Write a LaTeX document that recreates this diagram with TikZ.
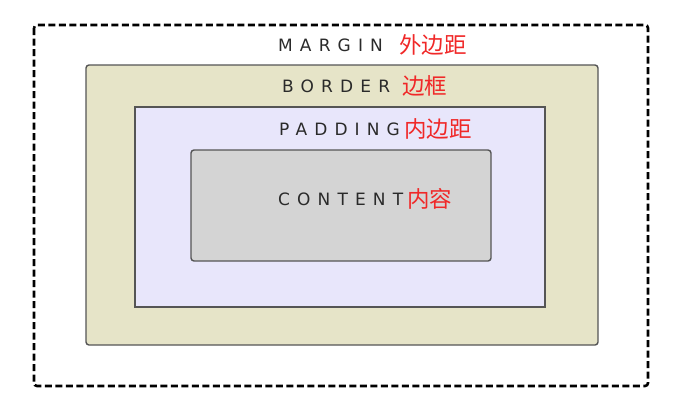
\documentclass[tikz,border=0pt]{standalone}
\usepackage{fontspec}
\setmainfont{DejaVu Sans}
\newfontfamily\latfont[LetterSpace=42]{DejaVu Sans}
\newfontfamily\cjkfont{Noto Sans CJK SC}
\definecolor{bordfill}{HTML}{E6E4C8}
\definecolor{padfill}{HTML}{E8E6FB}
\definecolor{contfill}{HTML}{D4D4D4}
\definecolor{edge}{HTML}{555555}
\definecolor{txt}{HTML}{2A2A2A}
\definecolor{cjkred}{HTML}{F02828}
\begin{document}
\begin{tikzpicture}[x=1pt,y=-1pt,
  boxstyle/.style={draw=edge,line width=1.4pt,rounded corners=3pt},
  lat/.style={inner sep=0pt,anchor=base west,text=txt,font=\latfont\fontsize{17}{17}\selectfont},
  cjk/.style={inner sep=0pt,anchor=base west,text=cjkred,font=\cjkfont\fontsize{22.5}{22.5}\selectfont}]
\useasboundingbox (0,0) rectangle (693,400);
\draw[line width=2.6pt,dash pattern=on 7pt off 3.5pt,rounded corners=3pt] (34,25) rectangle (648,386);
\draw[boxstyle,fill=bordfill] (86,65) rectangle (598,345);
\draw[boxstyle,fill=padfill,rounded corners=0pt] (135,107) rectangle (545,307);
\draw[boxstyle,fill=contfill] (191,150) rectangle (491,261);
\node[lat] (mL) at (278,51) {MARGIN};
\node[cjk] (mC) at (399,53) {外边距};
\node[lat] (bL) at (282,92) {BORDER};
\node[cjk] (bC) at (402,94) {边框};
\node[lat] (pL) at (279,135) {PADDING};
\node[cjk] (pC) at (404,137) {内边距};
\node[lat] (cL) at (278,205) {CONTENT};
\node[cjk] (cC) at (407,207) {内容};
\end{tikzpicture}
\end{document}
